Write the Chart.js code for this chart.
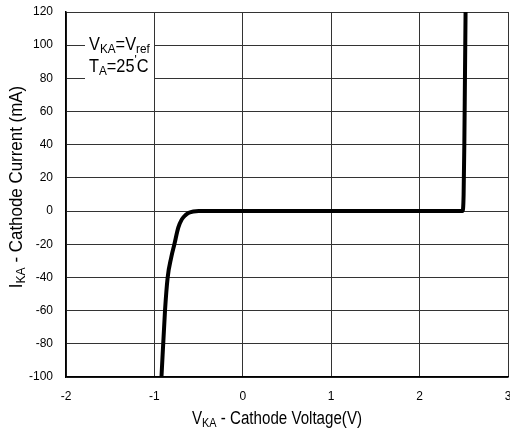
<!DOCTYPE html>
<html><head><meta charset="utf-8">
<script src="https://cdn.jsdelivr.net/npm/chart.js@4"></script>
<style>html,body{margin:0;padding:0;background:#fff}#w{width:510px;height:430px}</style>
</head><body><div id="w"><canvas id="c"></canvas></div>
<script>
const voltage = [-0.92, -0.88, -0.85, -0.81, -0.774, -0.73, -0.69, -0.65, -0.61, -0.56, -0.50, 1.0, 2.0, 2.485, 2.498, 2.506, 2.513, 2.52];
const current = [-100, -60, -40, -28, -20, -10, -5, -2.5, -1, -0.2, 0, 0, 0, 0, 10, 40, 80, 120];
const xTicks = [-2, -1, 0, 1, 2, 3];
const yTicks = [-100, -80, -60, -40, -20, 0, 20, 40, 60, 80, 100, 120];
const FONT = '"Liberation Sans", Arial, sans-serif';

function subText(ctx, parts, x, y, size, align, sx) {
  // parts: [[text, mode], ...] mode: 0 normal, 1 sub, 2 sup
  sx = sx || 1;
  let total = 0;
  parts.forEach(p => { ctx.font = (p[1] ? size * 0.72 : size) + 'px ' + FONT; total += ctx.measureText(p[0]).width; });
  ctx.save();
  ctx.translate(x, y);
  ctx.scale(sx, 1);
  let cx = align === 'center' ? -total / 2 : 0;
  ctx.textAlign = 'left'; ctx.textBaseline = 'alphabetic';
  parts.forEach(p => {
    ctx.font = (p[1] ? size * 0.72 : size) + 'px ' + FONT;
    const dy = p[1] === 1 ? size * 0.15 : p[1] === 2 ? -size * 0.42 : 0;
    ctx.fillText(p[0], cx, dy);
    cx += ctx.measureText(p[0]).width;
  });
  ctx.restore();
}

const labels = {
  id: 'labels',
  afterDraw(chart) {
    const ctx = chart.ctx;
    ctx.save();
    ctx.fillStyle = '#000';
    subText(ctx, [['V', 0], ['KA', 1], [' - Cathode Voltage(V)', 0]], 277, 424, 18, 'center', 0.84);
    ctx.save();
    ctx.translate(22, 187);
    ctx.rotate(-Math.PI / 2);
    subText(ctx, [['I', 0], ['KA', 1], [' - Cathode Current (mA)', 0]], 0, 0, 18, 'center', 0.94);
    ctx.restore();
    ctx.fillStyle = '#fff';
    ctx.fillRect(85, 31, 69, 49);
    ctx.fillStyle = '#000';
    subText(ctx, [['V', 0], ['KA', 1], ['=V', 0], ['ref', 1]], 89, 50, 19, 'left', 0.86);
    subText(ctx, [['T', 0], ['A', 1], ['=25', 0], ["'", 2], ['C', 0]], 89, 72, 19, 'left', 0.86);
    ctx.restore();
  }
};

new Chart(document.getElementById('c'), {
  type: 'line',
  data: {
    datasets: [{
      data: voltage.map((v, i) => ({ x: v, y: current[i] })),
      borderColor: '#000', borderWidth: 4, pointRadius: 0,
      cubicInterpolationMode: 'monotone', fill: false, clip: 4
    }]
  },
  options: {
    responsive: true, maintainAspectRatio: false, animation: false,
    layout: { padding: { left: 0, top: 12, right: 2, bottom: 0 } },
    plugins: { legend: { display: false }, tooltip: { enabled: false } },
    scales: {
      x: {
        type: 'linear', min: -2, max: 3,
        afterBuildTicks: s => { s.ticks = xTicks.map(v => ({ value: v })); },
        afterFit: s => { s.height = 53; s.paddingLeft = 0; s.paddingRight = 0; },
        grid: { color: '#333', lineWidth: 1, drawTicks: false },
        border: { color: '#000', width: 1.5 },
        ticks: { color: '#000', font: { family: FONT, size: 12 }, padding: 12 }
      },
      y: {
        type: 'linear', min: -100, max: 120,
        afterBuildTicks: s => { s.ticks = yTicks.map(v => ({ value: v })); },
        afterFit: s => { s.width = 66; s.paddingTop = 0; s.paddingBottom = 0; },
        grid: { color: '#333', lineWidth: 1, drawTicks: false },
        border: { color: '#000', width: 1.5 },
        ticks: { color: '#000', font: { family: FONT, size: 12 }, padding: 13 }
      }
    }
  },
  plugins: [labels]
});
</script>
</body></html>
